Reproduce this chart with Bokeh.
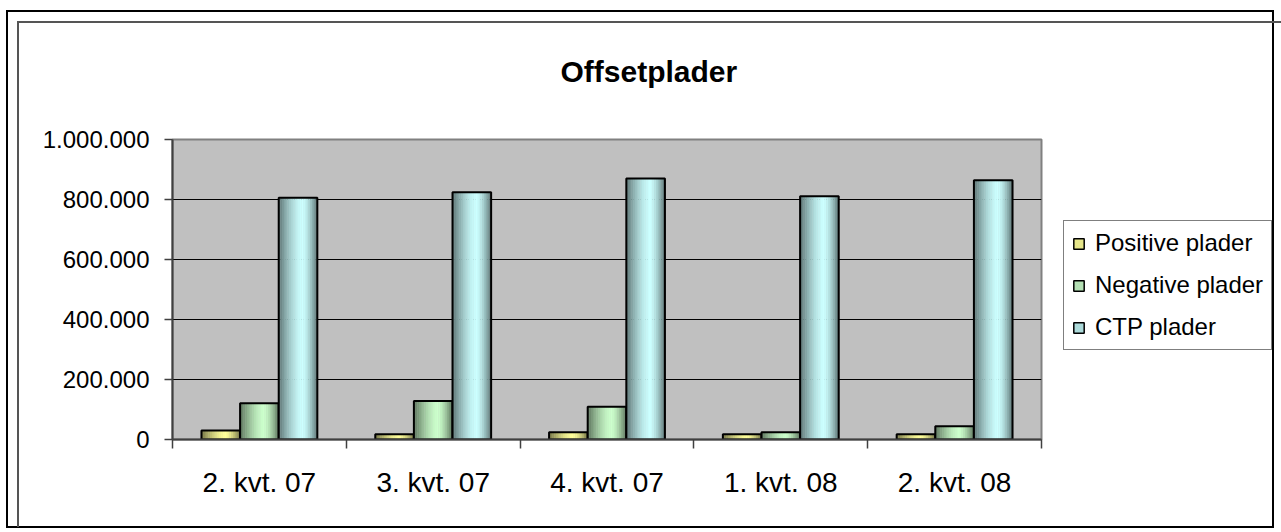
from bokeh.plotting import figure
from bokeh.layouts import row
from bokeh.models import (Range1d, FixedTicker, ColumnDataSource, Legend,
                          LegendItem, InlineStyleSheet)
from bokeh.embed import file_html
from bokeh.resources import INLINE

# ---------------- data ----------------
categories = ["2. kvt. 07", "3. kvt. 07", "4. kvt. 07", "1. kvt. 08", "2. kvt. 08"]
positive = [30000, 17500, 24000, 17500, 17500]
negative = [121000, 128000, 109000, 24000, 44000]
ctp = [806000, 824000, 870000, 811000, 864000]
series_names = ["Positive plader", "Negative plader", "CTP plader"]
y_ticks = [0, 200000, 400000, 600000, 800000, 1000000]
y_tick_labels = ["0", "200.000", "400.000", "600.000", "800.000", "1.000.000"]
title_text = "Offsetplader"

# ---------------- style ----------------
FONT = "Liberation Sans"
W, H = 1281, 532
W_MAIN = 1051
base_colors = [(255, 255, 153), (204, 255, 204), (204, 255, 255)]
legend_colors = ["#E6E68A", "#B4E0B4", "#ACDADA"]
N_STRIPES = 22
bar_w = 1 / 4.5
offsets = [-bar_w, 0.0, bar_w]


def shade(t):
    peak = 0.62
    u = (peak - t) / peak if t < peak else (t - peak) / (1 - peak)
    return 1 - 0.55 * (u ** 1.5)


def hexcol(rgb, k):
    return "#%02x%02x%02x" % tuple(max(0, min(255, int(round(c * k)))) for c in rgb)


css = """
:host { position: relative; }
:host::before {
  content: ""; position: absolute; left: 6px; top: 10px;
  width: 1268px; height: 518px; box-sizing: border-box;
  border: 2px solid #000000; pointer-events: none; z-index: 100;
}
:host::after {
  content: ""; position: absolute; left: 17px; top: 21px;
  width: 1264px; height: 506px; box-sizing: border-box;
  border-left: 2px solid #555555; border-top: 2px solid #555555;
  pointer-events: none; z-index: 100;
}
"""

p = figure(width=W_MAIN, height=H,
           x_range=Range1d(0, len(categories)), y_range=Range1d(0, 1000000),
           output_backend="svg", toolbar_location=None,
           min_border_left=172, min_border_right=10,
           min_border_top=139, min_border_bottom=93)

p.background_fill_color = "#C0C0C0"
p.border_fill_color = "white"
p.outline_line_color = "#808080"
p.outline_line_width = 2

# title
p.title.text = title_text
p.title.text_font = FONT
p.title.text_font_size = "30px"
p.title.text_font_style = "bold"
p.title.text_color = "black"
p.title.align = "left"
p.title.offset = 388
p.title.vertical_align = "bottom"
p.title.standoff = 104

# y axis
yax = p.yaxis[0]
yax.ticker = FixedTicker(ticks=y_ticks)
yax.major_label_overrides = {t: l for t, l in zip(y_ticks, y_tick_labels)}
yax.major_label_text_font = FONT
yax.major_label_text_font_size = "24px"
yax.major_label_text_color = "black"
yax.major_label_standoff = 15
yax.major_tick_out = 8
yax.major_tick_in = 0
yax.major_tick_line_color = "#404040"
yax.major_tick_line_width = 1.5
yax.minor_tick_line_color = None
yax.axis_line_color = "#404040"
yax.axis_line_width = 2

# x axis
xax = p.xaxis[0]
centers = [i + 0.5 for i in range(len(categories))]
xax.ticker = FixedTicker(ticks=centers, minor_ticks=list(range(len(categories) + 1)))
xax.major_label_overrides = {c: lab for c, lab in zip(centers, categories)}
xax.major_label_text_font = FONT
xax.major_label_text_font_size = "28px"
xax.major_label_text_color = "black"
xax.major_label_standoff = 18
xax.major_tick_line_color = None
xax.major_tick_out = 0
xax.major_tick_in = 0
xax.minor_tick_out = 9
xax.minor_tick_in = 0
xax.minor_tick_line_color = "#404040"
xax.minor_tick_line_width = 1.5
xax.axis_line_color = "#404040"
xax.axis_line_width = 2

p.xgrid.grid_line_color = None
p.ygrid.grid_line_color = "black"
p.ygrid.grid_line_width = 1

# legend panel (separate figure so the legend is not clipped)
pl = figure(width=W - W_MAIN, height=H, x_range=Range1d(0, len(categories)),
            y_range=Range1d(0, 1000000), output_backend="svg",
            toolbar_location=None, min_border=0,
            x_axis_location=None, y_axis_location=None)
pl.title.text = ""
pl.outline_line_color = None
pl.background_fill_color = "white"
pl.border_fill_color = "white"
pl.xgrid.visible = False
pl.ygrid.visible = False

# bars (striped gradient)
all_series = [positive, negative, ctp]
legend_items = []
for s, vals in enumerate(all_series):
    xs, tops, widths, cols = [], [], [], []
    for i, v in enumerate(vals):
        left = i + 0.5 + offsets[s] - bar_w / 2
        for j in range(N_STRIPES):
            t = (j + 0.5) / N_STRIPES
            xs.append(left + t * bar_w)
            tops.append(v)
            widths.append(bar_w / N_STRIPES * 1.2)
            cols.append(hexcol(base_colors[s], shade(t)))
    src = ColumnDataSource(dict(x=xs, top=tops, w=widths, c=cols))
    p.vbar(x="x", top="top", width="w", bottom=0, fill_color="c",
           line_color=None, source=src)
    bar_x = [i + 0.5 + offsets[s] for i in range(len(vals))]
    p.vbar(x=bar_x, top=vals, width=bar_w, bottom=0, fill_color=None,
           line_color="black", line_width=2)
    r = pl.vbar(x=bar_x, top=vals, width=bar_w, bottom=0,
                fill_color=legend_colors[s], line_color="black",
                line_width=1.5, visible=False)
    legend_items.append(LegendItem(label=series_names[s], renderers=[r]))

legend = Legend(items=legend_items, location=(12, 89))
legend.label_text_font = FONT
legend.label_text_font_size = "24px"
legend.label_text_color = "black"
legend.glyph_width = 13
legend.glyph_height = 13
legend.padding = 8
legend.spacing = 14
legend.label_standoff = 10
legend.margin = 0
legend.border_line_color = "black"
legend.border_line_width = 1
legend.background_fill_color = "white"
legend.background_fill_alpha = 1
pl.add_layout(legend)

layout = row(p, pl)
layout.stylesheets = [InlineStyleSheet(css=css)]

open("out.html", "w").write(file_html(layout, INLINE))
